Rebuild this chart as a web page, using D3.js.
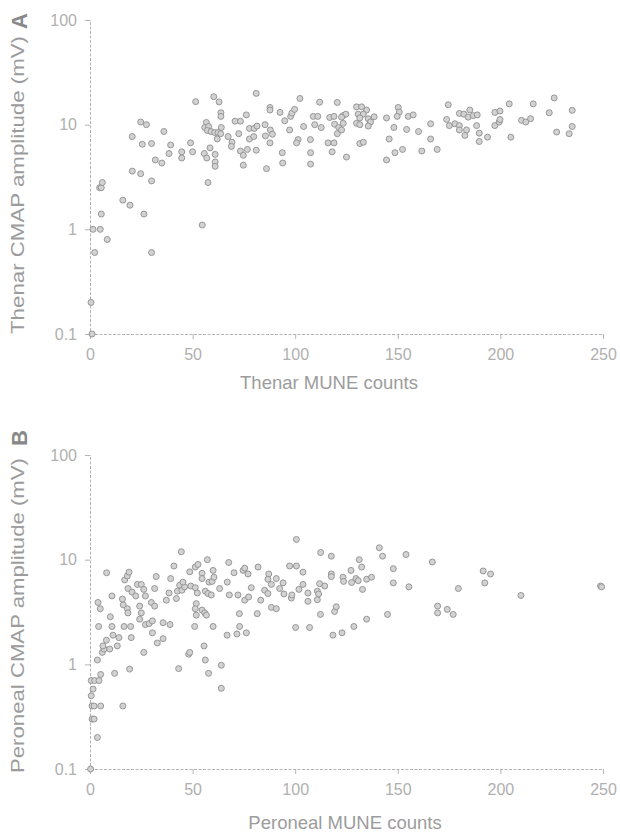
<!DOCTYPE html>
<html>
<head>
<meta charset="utf-8">
<script src="https://cdn.jsdelivr.net/npm/d3@7"></script>
<style>
  body { margin: 0; background: #fff; }
  text { font-family: "Liberation Sans", Arial, sans-serif; }
</style>
</head>
<body>
<script>
// thenar MUNE counts and CMAP amplitudes (mV), panel A
var thenarMune = [1, 0.5, 1.5, 5, 2.3, 8.4, 5.5, 4.7, 5.5, 6, 16, 19.5, 26.3, 30, 20.6, 24.7, 30, 20.6, 24.7, 27.5,
    25.5, 30, 31.8, 35, 36, 38.5, 39.3, 44.7, 44.7, 49, 50, 51.5, 54.7, 57.5, 55.7, 56.9, 61, 61, 61, 58.5,
    60.3, 62.9, 63.8, 63.8, 56.7, 55.9, 57.8, 57.2, 59, 60.8, 62.4, 64, 63.7, 62, 67.3, 69.2, 68.9, 70.7, 73.3, 72.5,
    73.3, 74.7, 74.7, 76.2, 77.7, 80, 81.4, 76.7, 77.7, 79.8, 81, 81, 85.3, 85.5, 86, 87.7, 87.7, 87.9, 88.9, 87.7,
    92.6, 93.7, 93.9, 94.9, 97.8, 98.4, 99.7, 97.3, 101.4, 100.7, 102.3, 104.1, 107.4, 107.5, 107.5, 108.8, 111, 109.5, 112.7, 111.9,
    116.8, 118.9, 116, 118.9, 118, 120.5, 119.2, 121.2, 120.5, 123.3, 125,
    124.7, 122.6, 123.4, 122.6, 129.9, 132.4, 134.8, 130.7, 133.2, 131.5, 129.9, 131.5, 135.6, 136.7, 138.5, 135.6, 131.5, 133.2,
    144.5, 150.2, 150.7, 149.7, 148.1, 154.3, 155.1, 157.5, 145.8, 144.5, 148.6, 152.3, 160.1, 161.7, 166, 166, 169.2,
    174.6, 173.8, 175.1, 177.8, 180, 180, 180, 182.2, 185.1, 184.3, 186.8, 188.7, 182.7, 183.5, 188.4, 189.7, 189.7, 193.7,
    197.3, 199.8, 204.3, 197.3, 199.4, 199.8, 205.1, 210.3, 212.4, 214.7, 216, 223.8, 226.2, 227.4, 233.5, 235, 235];
var thenarAmp = [0.1, 0.2, 1.0, 1.0, 0.6, 0.8, 1.4, 2.5, 2.5, 2.8, 1.9, 1.7, 1.4, 0.6, 3.6, 3.4, 2.9, 7.7, 10.6, 10,
    6.5, 6.6, 4.6, 4.3, 8.6, 5.3, 6.4, 5.5, 4.8, 6.7, 5.5, 16.6, 1.1, 2.8, 5.3, 4.8, 5.2, 4.4, 4.0, 6.0,
    18.5, 16.5, 13, 12, 10.5, 9.4, 9.6, 8.8, 8.6, 8.4, 8.4, 9.4, 8.2, 7.3, 7.7, 6.8, 6.2, 10.8, 10.8, 8.2,
    5.6, 5.1, 4.1, 12.4, 9.2, 9.2, 9.7, 5.8, 7.3, 7.7, 19.9, 5.7, 10, 7.8, 3.8, 14.6, 13.8, 8.9, 8.1, 6.7,
    13.1, 5.4, 4.3, 10.9, 12, 12.9, 14, 8.9, 7.2, 6.7, 17.8, 9.6, 7.2, 5.4, 4.2, 12, 12, 10, 9.4, 16.4,
    11.7, 12, 6.7, 6.7, 5.5, 16.3, 10.1, 9.4, 8.2, 12.2, 4.9,
    12.6, 11.8, 10.3, 8.9, 14.8, 14.8, 13.8, 12.6, 12.6, 11.6, 10.3, 10, 11.4, 10.6, 11.9, 9.7, 6.6, 6.8,
    11.6, 14.6, 13.2, 12, 9.4, 9.0, 12, 12.4, 7.3, 4.6, 5.4, 5.8, 8.6, 5.6, 10.2, 7.3, 5.8,
    15.5, 11.2, 9.8, 10.2, 9.8, 8.9, 12.8, 12.6, 13.8, 11.8, 12.2, 12.4, 7.9, 8.9, 9.8, 8.3, 6.9, 7.6,
    13.1, 13.5, 15.8, 9.8, 10.6, 11.2, 7.6, 11, 10.6, 11.4, 15.8, 13, 18, 8.5, 8.2, 13.7, 9.6];

// peroneal MUNE counts and CMAP amplitudes (mV), panel B
var peronealMune = [0.3, 3.6, 1, 2, 1, 2, 5.2, 0.6, 1.5, 0.6, 2.3, 4.4, 5.2, 12, 19.3, 16, 3.6, 6, 6.8, 6.3,
    8, 9.6, 11.2, 13.3, 14.1, 20.1, 4.2, 10.7, 16.6, 19.8, 9.9, 3.9, 5, 10.7, 15.8, 16.2, 18.2, 18.5, 8.1, 16.9,
    18.2, 19, 18.5, 20.5, 22.3, 23.1, 25, 26.2, 27, 24.2, 25, 24.2, 26.2, 27, 28.8, 30.4, 30.4, 29.9, 31.5, 31.5,
    32.3, 32.8, 35.6, 35.6, 39, 37.2, 38.5, 39.3, 40.9, 44.5, 43.2, 42.6, 42.1, 43.7, 44.8, 46.1, 45.3, 48.6, 49.1, 51.3,
    52.3, 51.3, 52.6, 54.6, 54.6, 57.2, 48.1, 48.6, 51.8, 51.3, 51.8, 54.6, 55.9, 56.7, 51, 55.6, 56.2, 57.8, 56.2, 57.5,
    58, 59.5, 60, 60.4, 59.1, 60, 63.2, 64, 64, 66.9, 67.6, 67.9, 66.8, 70.2, 72.1, 72.8, 72.9, 71.6, 76.2, 74.6,
    75.4, 77, 78.6, 75.4, 77.3, 81.5, 81.9, 83.2, 85.1, 86.7, 87.1, 86.7, 88.4, 88.4, 90.8, 90.8, 92.4, 94.1, 94.5, 98.1,
    98.4, 97.3, 100.6, 100.6, 100.2, 107, 101.8, 103.8, 103.8, 106.2, 106.2, 110.8, 110.8, 111.4, 111.9, 114.4, 112.3, 112.4, 117.6, 117.6,
    117.6, 118.4, 122.8, 119.2, 120, 123.3, 123.6,
    128.6, 134.8, 145, 127.2, 131.2, 132.4, 129.6, 130.7, 127.5, 132.8, 134.8, 137.2, 141, 142.6, 147.8, 147.8, 154, 155.4,
    166.8, 169.4, 169.4, 174.1, 177, 179.5, 191.6, 195.2, 192.4, 210, 248.8, 249.3];
var peronealAmp = [0.1, 0.2, 0.3, 0.3, 0.4, 0.4, 0.4, 0.5, 0.58, 0.7, 0.7, 0.7, 0.8, 0.82, 0.9, 0.4, 1.1, 1.3, 1.4, 1.5,
    1.7, 1.4, 1.9, 1.5, 1.8, 1.8, 2.3, 2.3, 2.3, 2.3, 2.85, 3.9, 3.4, 4.5, 4.2, 3.7, 3.4, 3.1, 7.5, 6.4,
    7, 7.6, 5.3, 4.9, 4.5, 5.8, 5.8, 5.2, 4.5, 3.6, 3.1, 2.7, 1.3, 2.4, 2.45, 2.6, 2.0, 3.9, 3.6, 5.3,
    6.9, 1.6, 1.76, 2.5, 2.4, 4.1, 4.8, 6.6, 8.7, 11.9, 0.91, 5, 4.25, 5.7, 5.1, 5.5, 6.1, 7.65, 5.6, 5.4,
    4.8, 8.5, 9, 7.4, 6.6, 10, 1.25, 1.3, 3.8, 3.4, 2.95, 3.3, 3.1, 2.95, 2.3, 1.5, 1.1, 0.82, 5, 4.75,
    6.1, 6.2, 7.9, 6.8, 4.6, 2.3, 5.3, 0.98, 0.59, 6.1, 9.4, 4.6, 1.9, 7.5, 4.6, 3.05, 2.3, 1.95, 2.0, 7.9,
    8.3, 7.3, 5.4, 4.1, 4.4, 3.05, 8.5, 4.1, 5.1, 4.75, 7.3, 6.5, 5.8, 3.5, 3.4, 6.6, 5.3, 6.0, 4.7, 4.3,
    4.6, 8.7, 8.7, 15.6, 2.25, 2.25, 5.2, 5.8, 7.6, 4.8, 4.0, 5, 4.15, 4.7, 5.9, 5.6, 3.0, 11.7, 10.8, 7.3,
    6.9, 1.9, 2.0, 3.2, 3.55, 6.8, 6.2,
    2.3, 2.7, 3.0, 7.9, 10, 8.5, 6.6, 6.3, 6.05, 5.2, 6.5, 6.8, 13, 10.8, 8.2, 6.0, 11.2, 5.5,
    9.5, 3.6, 3.1, 3.35, 3.0, 5.3, 7.8, 7.3, 6.0, 4.55, 5.6, 5.5];

// axis tick values
var xTicks = [0, 50, 100, 150, 200, 250];
var yTicks = [0.1, 1, 10, 100];

var width = 620,
    height = 833;

var svg = d3.select('body')
    .append('svg')
    .attr('width', width)
    .attr('height', height);

// shared x range for both panels
var left = 90,
    right = 603;

var panels = [
    { mune: thenarMune, amp: thenarAmp, top: 20, bottom: 334, letter: 'A',
      xTitle: 'Thenar MUNE counts', xTitleX: 329, xTitleY: 389,
      yTitle: 'Thenar CMAP amplitude (mV)', yTitleLo: 334, yTitleHi: 36, letterY: 21 },
    { mune: peronealMune, amp: peronealAmp, top: 455, bottom: 769, letter: 'B',
      xTitle: 'Peroneal MUNE counts', xTitleX: 345, xTitleY: 829,
      yTitle: 'Peroneal CMAP amplitude (mV)', yTitleLo: 773, yTitleHi: 458, letterY: 438 }
];

panels.forEach(drawPanel);

function drawPanel(p) {
    var x = d3.scaleLinear().domain([0, 250]).range([left, right]);
    var y = d3.scaleLog().domain([0.1, 100]).range([p.bottom, p.top]);

    var g = svg.append('g');

    // x axis along the bottom
    var xAxis = g.append('g')
        .attr('transform', 'translate(0,' + p.bottom + ')')
        .call(d3.axisBottom(x).tickValues(xTicks).tickSize(5).tickPadding(10).tickFormat(d3.format('d')));

    // log y axis
    var yAxis = g.append('g')
        .attr('transform', 'translate(' + left + ',0)')
        .call(d3.axisLeft(y).tickValues(yTicks).tickSize(5).tickPadding(8).tickFormat(function(d) { return String(d); }));

    [xAxis, yAxis].forEach(function(a) {
        a.select('.domain')
            .attr('stroke', '#b4b4b4')
            .attr('stroke-dasharray', '3,1.5');
        a.selectAll('.tick line').attr('stroke', '#b4b4b4');
        a.selectAll('.tick text')
            .attr('fill', '#b0b0b0')
            .style('font-size', '16px');
    });

    // scatter points
    var pts = p.mune.map(function(d, i) { return [d, p.amp[i]]; });
    g.append('g')
        .selectAll('circle')
        .data(pts)
        .enter().append('circle')
        .attr('cx', function(d) { return x(d[0]); })
        .attr('cy', function(d) { return y(d[1]); })
        .attr('r', 3)
        .attr('fill', '#d2d2d2')
        .attr('stroke', '#8e8e8e')
        .attr('stroke-width', 0.9);

    // x title
    g.append('text')
        .attr('x', p.xTitleX)
        .attr('y', p.xTitleY)
        .attr('text-anchor', 'middle')
        .attr('fill', '#9c9c9c')
        .style('font-size', '18.5px')
        .text(p.xTitle);

    // rotated y title, stretched to the length in the figure
    var mid = (p.yTitleLo + p.yTitleHi) / 2;
    g.append('text')
        .attr('transform', 'translate(24,' + mid + ') rotate(-90)')
        .attr('text-anchor', 'middle')
        .attr('textLength', p.yTitleLo - p.yTitleHi)
        .attr('lengthAdjust', 'spacingAndGlyphs')
        .attr('fill', '#9c9c9c')
        .style('font-size', '18.5px')
        .text(p.yTitle);

    // panel letter
    g.append('text')
        .attr('transform', 'translate(27,' + p.letterY + ') rotate(-90)')
        .attr('text-anchor', 'middle')
        .attr('fill', '#888')
        .style('font-size', '22px')
        .style('font-weight', 'bold')
        .text(p.letter);
}
</script>
</body>
</html>
